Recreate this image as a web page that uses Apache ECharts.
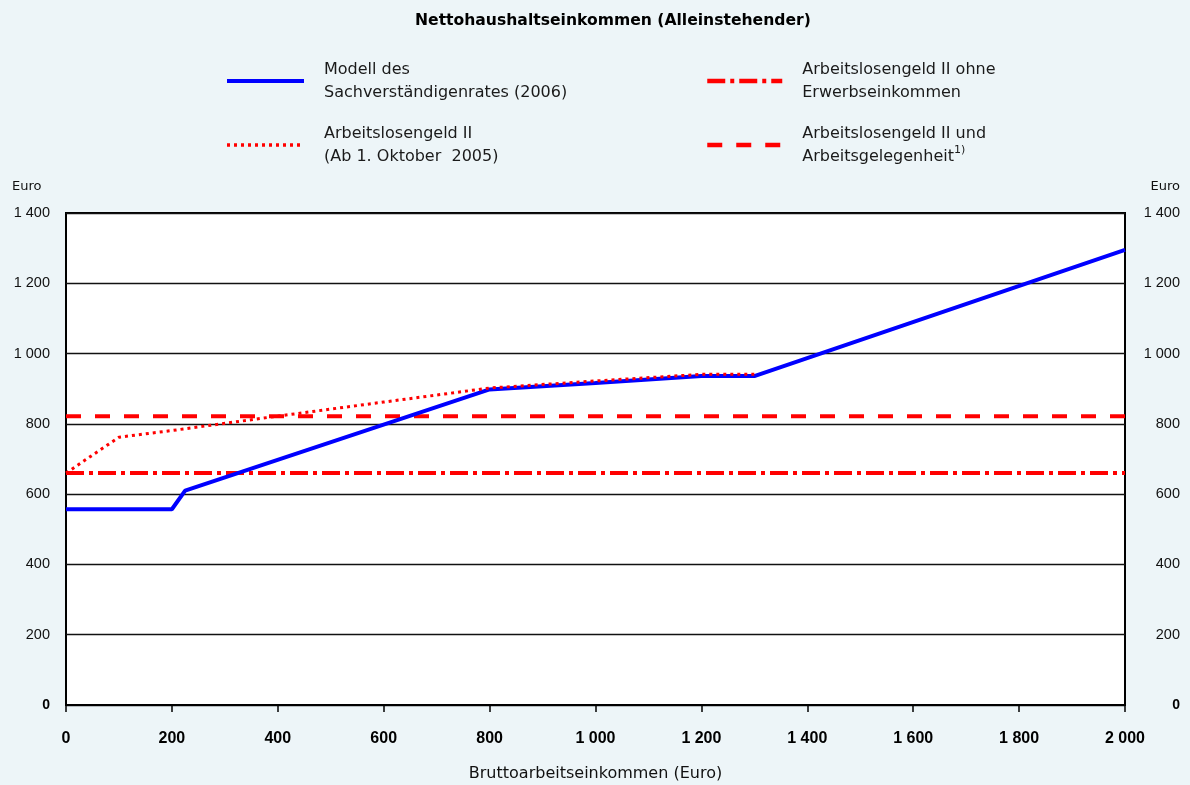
<!DOCTYPE html>
<html>
<head>
<meta charset="utf-8">
<script src="https://cdn.jsdelivr.net/npm/echarts@6/dist/echarts.min.js"></script>
<style>
html,body{margin:0;padding:0;background:#EDF5F8;}
#c{width:1190px;height:785px;}
</style>
</head>
<body>
<div id="c"></div>
<script>
// Data
const modellX = [0, 200, 225, 800, 1000, 1200, 1300, 2000];
const modellY = [557, 557, 610, 898, 916, 936, 936, 1295];
const alg2X = [0, 100, 200, 400, 600, 800, 1000, 1200, 1300];
const alg2Y = [660, 762, 781, 822, 862, 902, 922, 941, 941];
const ohneX = [0, 2000];
const ohneY = [660, 660];
const undX = [0, 2000];
const undY = [822, 822];
const legendLabels = {
  'Modell': 'Modell des\nSachverständigenrates (2006)',
  'ALG2': 'Arbeitslosengeld II\n(Ab 1. Oktober  2005)',
  'Ohne': 'Arbeitslosengeld II ohne\nErwerbseinkommen',
  'Und': 'Arbeitslosengeld II und\nArbeitsgelegenheit{sup|1)}'
};
const title = 'Nettohaushaltseinkommen (Alleinstehender)';
const xName = 'Bruttoarbeitseinkommen (Euro)';
const yUnit = 'Euro';

const zip = (xs, ys) => xs.map((x, i) => [x, ys[i]]);
const fmt = v => {
  const s = String(Math.round(v));
  return s.length > 3 ? s.slice(0, s.length - 3) + ' ' + s.slice(s.length - 3) : s;
};
const NUM = '"Liberation Sans", Arial, sans-serif';
const TXT = '"DejaVu Sans", sans-serif';
const legendText = {
  fontFamily: TXT, fontSize: 16, color: '#1a1a1a', lineHeight: 23, padding: [0, 0, 0, 15],
  rich: { sup: { fontFamily: TXT, fontSize: 11, verticalAlign: 'top', padding: [0, 0, 10, 0], color: '#1a1a1a' } }
};
const legendBase = {
  orient: 'vertical', top: 53, itemHeight: 14, itemGap: 18,
  itemStyle: { color: 'rgba(0,0,0,0)', borderWidth: 0, opacity: 0 },
  formatter: n => legendLabels[n], textStyle: legendText
};

const chart = echarts.init(document.getElementById('c'), null, {renderer: 'canvas'});
chart.setOption({
  backgroundColor: '#EDF5F8',
  animation: false,
  title: {
    text: title, left: 410, top: 8,
    textStyle: { fontFamily: TXT, fontSize: 15.6, fontWeight: 'bold', color: '#000' }
  },
  legend: [
    Object.assign({}, legendBase, {
      data: [{ name: 'Modell', lineStyle: { width: 4 } }, { name: 'ALG2', lineStyle: { width: 3.5 } }],
      left: 220, itemWidth: 77
    }),
    Object.assign({}, legendBase, {
      data: [{ name: 'Ohne', lineStyle: { width: 4.5 } }, { name: 'Und', lineStyle: { width: 4.5 } }],
      left: 700, itemWidth: 75
    })
  ],
  graphic: [
    { type: 'text', left: 12, top: 180, style: { text: yUnit, font: '13px "DejaVu Sans"', fill: '#111' } },
    { type: 'text', right: 10, top: 180, style: { text: yUnit, font: '13px "DejaVu Sans"', fill: '#111' } }
  ],
  grid: {
    left: 66, right: 65, top: 213, bottom: 80, outerBoundsMode: 'none',
    show: true, backgroundColor: '#fff', borderColor: '#000', borderWidth: 2
  },
  xAxis: {
    type: 'value', min: 0, max: 2000, interval: 200,
    name: xName, nameLocation: 'middle', nameGap: 61,
    nameTextStyle: { fontFamily: TXT, fontSize: 16, color: '#111' },
    axisLine: { show: true, lineStyle: { color: '#000', width: 2 } },
    axisTick: { show: true, inside: false, length: 7, lineStyle: { color: '#000', width: 1.5 } },
    splitLine: { show: false },
    axisLabel: { formatter: fmt, margin: 26, fontFamily: NUM, fontSize: 16, fontWeight: 'bold', color: '#000' }
  },
  yAxis: [
    {
      type: 'value', min: 0, max: 1400, interval: 200, position: 'left',
      axisLine: { show: false }, axisTick: { show: false },
      splitLine: { show: true, lineStyle: { color: '#111', width: 1.4 } },
      axisLabel: {
        margin: 16, fontFamily: NUM, fontSize: 14.5, color: '#111',
        formatter: v => v === 0 ? '{b|0}' : fmt(v),
        rich: { b: { fontFamily: NUM, fontSize: 14, fontWeight: 'bold', color: '#000' } }
      }
    },
    {
      type: 'value', min: 0, max: 1400, interval: 200, position: 'right',
      axisLine: { show: false }, axisTick: { show: false }, splitLine: { show: false },
      axisLabel: {
        margin: 55, align: 'right', fontFamily: NUM, fontSize: 14.5, color: '#111',
        formatter: v => v === 0 ? '{b|0}' : fmt(v),
        rich: { b: { fontFamily: NUM, fontSize: 14, fontWeight: 'bold', color: '#000' } }
      }
    }
  ],
  series: [
    {
      name: 'Ohne', type: 'line', data: zip(ohneX, ohneY), symbol: 'none', z: 2,
      lineStyle: { color: '#FF0000', width: 4, type: [18, 5, 4, 5] }, itemStyle: { color: '#FF0000' }
    },
    {
      name: 'Und', type: 'line', data: zip(undX, undY), symbol: 'none', z: 3,
      lineStyle: { color: '#FF0000', width: 4, type: [15, 14] }, itemStyle: { color: '#FF0000' }
    },
    {
      name: 'Modell', type: 'line', data: zip(modellX, modellY), symbol: 'none', z: 4,
      lineStyle: { color: '#0000FF', width: 4, type: 'solid' }, itemStyle: { color: '#0000FF' }
    },
    {
      name: 'ALG2', type: 'line', data: zip(alg2X, alg2Y), symbol: 'none', z: 5,
      lineStyle: { color: '#FF0000', width: 3, type: [3, 4] }, itemStyle: { color: '#FF0000' }
    }
  ]
});
</script>
</body>
</html>
